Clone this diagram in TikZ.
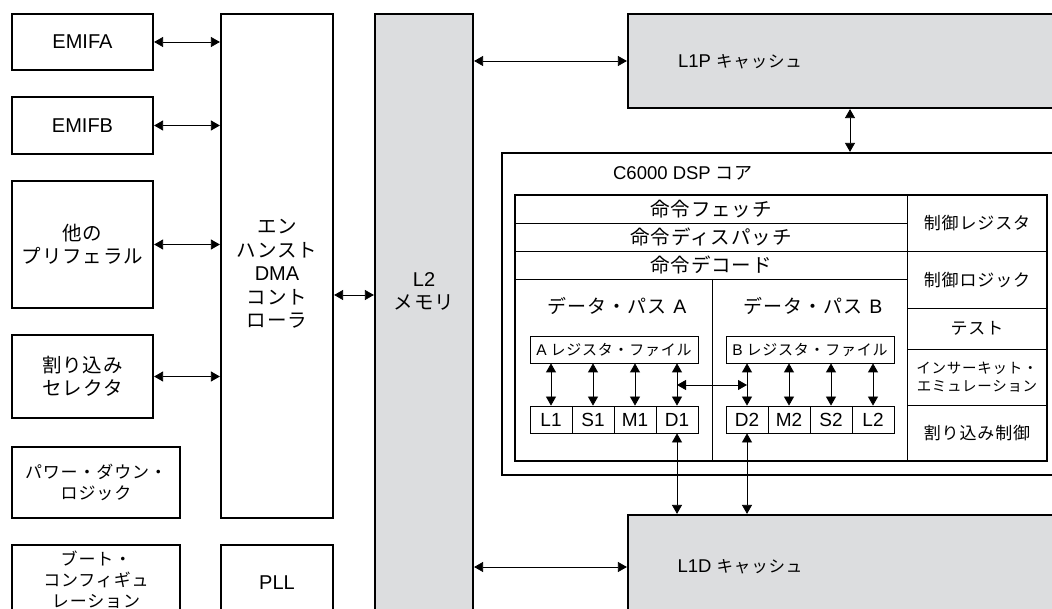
\documentclass[tikz,border=0pt]{standalone}
\usepackage{fontspec}
\setmainfont{Liberation Sans}
\newfontfamily\jp[LetterSpace=5]{Noto Sans CJK JP}
\usetikzlibrary{arrows.meta}
\definecolor{boxgray}{HTML}{DCDDDF}
\tikzset{
  box/.style={draw, line width=2.2pt, inner sep=0pt},
  gbox/.style={box, fill=boxgray},
  thin/.style={draw, line width=0.8pt, inner sep=0pt},
  unit/.style={thin, minimum width=42pt, minimum height=27pt, font=\fontsize{19}{22}\selectfont},
  arr/.style={line width=0.8pt, {Triangle[length=9pt,width=10pt]}-{Triangle[length=9pt,width=10pt]}},
  lat/.style={font=\fontsize{20}{24}\selectfont},
  jpa/.style={font={\jp\fontsize{19.5}{23}\selectfont}, align=center},
  jpi/.style={font={\jp\fontsize{19.5}{23}\selectfont}, align=center},
  jpb/.style={font={\jp\fontsize{17}{21}\selectfont}, align=center},
  jpc/.style={font={\jp\fontsize{14.5}{18}\selectfont}, align=center},
  txt/.style={inner sep=0pt}
}
\begin{document}
\begin{tikzpicture}[x=1pt,y=-1pt]
\useasboundingbox (0,0) rectangle (1052,609);
\clip (0,0) rectangle (1052,609);
\fill[white] (0,0) rectangle (1052,609);
\coordinate (yd) at (0,295);
\coordinate (yl1d) at (0,567);
\coordinate (ycr) at (0,385);
\coordinate (xc) at (850,0);

% left column
\node[box, lat, minimum width=141pt, minimum height=56pt] (emifa) at (82.5,42) {EMIFA};
\node[box, lat, minimum width=141pt, minimum height=57pt] (emifb) at (82.5,125.5) {EMIFB};
\node[box, jpa, minimum width=141pt, minimum height=127pt] (peri) at (82.5,244.5) {他の\\プリフェラル};
\node[box, jpa, minimum width=141pt, minimum height=83pt] (isel) at (82.5,376.5) {割り込み\\セレクタ};
\node[box, jpb, minimum width=168pt, minimum height=71pt] (pwr) at (96,482.5) {パワー・ダウン・\\ロジック};
\node[box, minimum width=168pt, minimum height=105pt] (boot) at (96,597.5) {};
\node[txt, jpb] (boott) at (96,580) {ブート・\\コンフィギュ\\レーション};

% DMA and PLL
\node[box, minimum width=112pt, minimum height=504pt] (dma) at (277,266) {};
\node[txt, align=center, font=\fontsize{19.5}{23.5}\selectfont] (dmat) at (277,274) {{\jp エン}\\{\jp ハンスト}\\{\fontsize{20}{23.5}\selectfont DMA}\\{\jp コント}\\{\jp ローラ}};
\node[box, minimum width=112pt, minimum height=105pt] (pll) at (277,597.5) {};
\node[txt, lat] (pllt) at (277,583) {PLL};

% L2
\node[gbox, minimum width=98pt, minimum height=686pt] (l2) at (424,357) {};
\node[txt, align=center, font=\fontsize{19.5}{23}\selectfont] (l2t) at (424,291) {{\fontsize{20}{23}\selectfont L2}\\{\jp メモリ}};

% L1P / L1D
\node[gbox, minimum width=572pt, minimum height=94pt] (l1p) at (914,61) {};
\node[txt, font=\fontsize{18.5}{22}\selectfont] (l1pt) at (740,62) {L1P {\jp\fontsize{16.5}{20}\selectfont キャッシュ}};
\node[gbox, minimum width=572pt, minimum height=185pt] (l1d) at (914,607.5) {};
\node[txt, font=\fontsize{18.5}{22}\selectfont] (l1dt) at (740,567) {L1D {\jp\fontsize{16.5}{20}\selectfont キャッシュ}};

% core
\node[box, minimum width=698pt, minimum height=322pt] (core) at (851,314) {};
\node[txt, font=\fontsize{18.5}{22}\selectfont] (coret) at (683,173) {C6000 DSP {\jp\fontsize{18}{20}\selectfont コア}};
\node[draw, line width=1.4pt, inner sep=0pt, minimum width=532pt, minimum height=266pt] (inner) at (781,328) {};

% inner grid
\draw[line width=0.8pt] (515,223) -- (907,223);
\draw[line width=0.8pt] (515,251) -- (1047,251);
\draw[line width=0.8pt] (515,279) -- (907,279);
\draw[line width=0.8pt] (907,195) -- (907,461);
\draw[line width=0.8pt] (907,308) -- (1047,308);
\draw[line width=0.8pt] (907,349) -- (1047,349);
\draw[line width=0.8pt] (907,405) -- (1047,405);
\draw[line width=0.8pt] (712,279) -- (712,461);

\node[txt, jpi] (fetch) at (711,209) {命令フェッチ};
\node[txt, jpi] (disp) at (711,237) {命令ディスパッチ};
\node[txt, jpi] (deco) at (711,265) {命令デコード};
\node[txt, jpb] (creg) at (977,223) {制御レジスタ};
\node[txt, jpb] (clog) at (977,280) {制御ロジック};
\node[txt, jpb] (test) at (977,328.5) {テスト};
\node[txt, jpc] (ice) at (977,377) {インサーキット・\\エミュレーション};
\node[txt, jpb] (intc) at (977,433) {割り込み制御};

\node[txt, font=\fontsize{19.5}{22}\selectfont] (dpa) at (617,306) {{\jp\fontsize{19}{22}\selectfont データ・パス}\hspace{7pt}A};
\node[txt, font=\fontsize{19.5}{22}\selectfont] (dpb) at (813,306) {{\jp\fontsize{19}{22}\selectfont データ・パス}\hspace{7pt}B};

\node[thin, minimum width=168pt, minimum height=27pt, font=\fontsize{15.5}{18}\selectfont] (rfa) at (614,349.5) {A\hspace{4pt}{\jp\fontsize{15}{18}\selectfont レジスタ・ファイル}};
\node[thin, minimum width=168pt, minimum height=27pt, font=\fontsize{15.5}{18}\selectfont] (rfb) at (810,349.5) {B\hspace{4pt}{\jp\fontsize{15}{18}\selectfont レジスタ・ファイル}};

\node[unit] (ul1) at (551,419.5) {L1};
\node[unit] (us1) at (593,419.5) {S1};
\node[unit] (um1) at (635,419.5) {M1};
\node[unit] (ud1) at (677,419.5) {D1};
\node[unit] (ud2) at (747,419.5) {D2};
\node[unit] (um2) at (789,419.5) {M2};
\node[unit] (us2) at (831,419.5) {S2};
\node[unit] (ul2) at (873,419.5) {L2};

% arrows inner
\foreach \u in {ul1,us1,um1,ud1}{\draw[arr] (rfa.south -| \u.north) -- (\u.north);}
\foreach \u in {ud2,um2,us2,ul2}{\draw[arr] (rfb.south -| \u.north) -- (\u.north);}
\draw[arr] (ud1.center |- ycr) -- (ud2.center |- ycr);
\draw[arr] (ud1.south) -- (ud1.south |- l1d.north);
\draw[arr] (ud2.south) -- (ud2.south |- l1d.north);

% outer arrows
\draw[arr] (emifa.east) -- (emifa.east -| dma.west);
\draw[arr] (emifb.east) -- (emifb.east -| dma.west);
\draw[arr] (peri.east) -- (peri.east -| dma.west);
\draw[arr] (isel.east) -- (isel.east -| dma.west);
\draw[arr] (dma.east |- yd) -- (l2.west |- yd);
\draw[arr] (l2.east |- l1p.west) -- (l1p.west);
\draw[arr] (l2.east |- yl1d) -- (l1d.west |- yl1d);
\draw[arr] (l1p.south -| xc) -- (core.north -| xc);
\end{tikzpicture}
\end{document}
